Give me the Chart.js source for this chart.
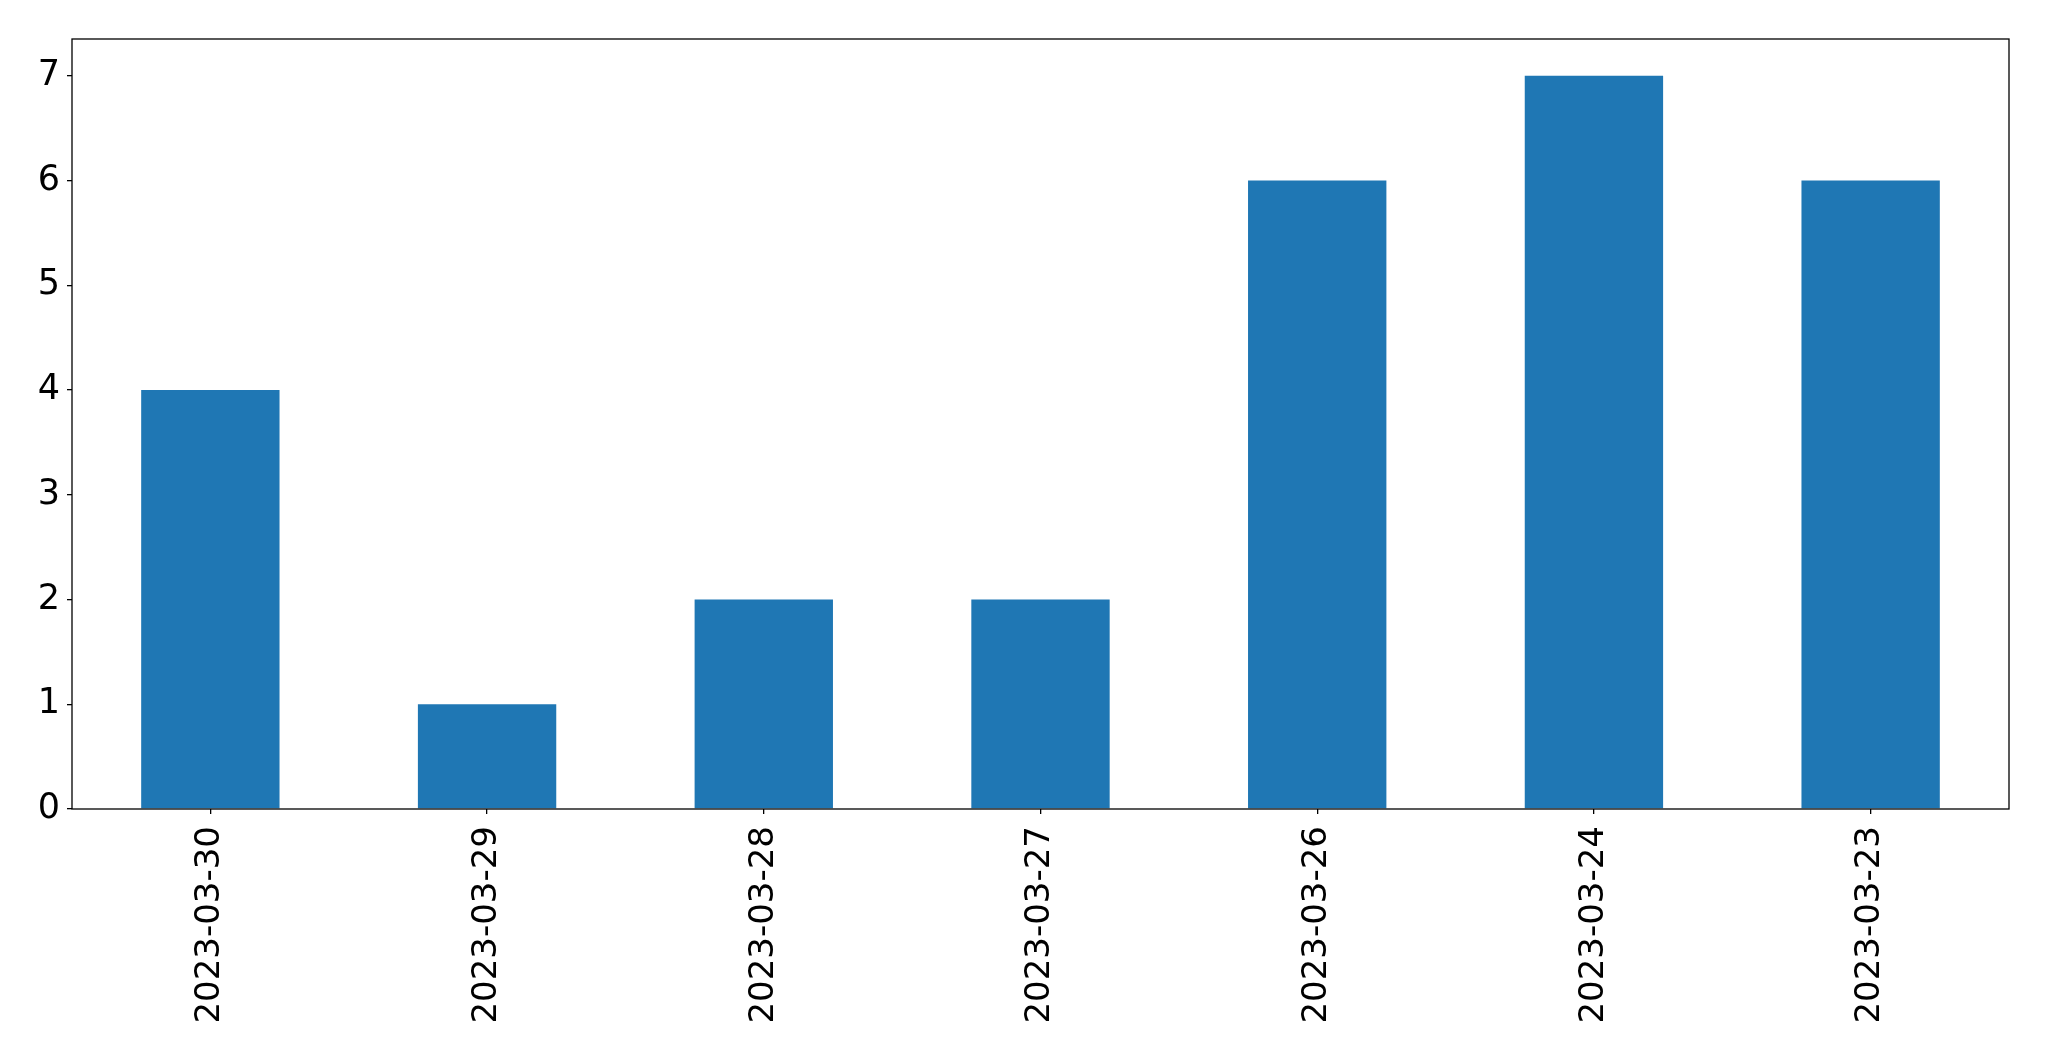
<!DOCTYPE html>
<html>
<head>
<meta charset="utf-8">
<script src="https://cdn.jsdelivr.net/npm/chart.js@4.4.0/dist/chart.umd.min.js"></script>
<style>
  html, body { margin: 0; padding: 0; background: #fff; }
  #wrap { width: 2049px; height: 1061px; }
</style>
</head>
<body>
<div id="wrap"><canvas id="chart-tanggal" width="2049" height="1061"></canvas></div>
<script>
const tanggal = ["2023-03-30", "2023-03-29", "2023-03-28", "2023-03-27", "2023-03-26", "2023-03-24", "2023-03-23"];
const jumlah = [4, 1, 2, 2, 6, 7, 6];
const yMax = 7.35;

// frame around the plot area, like matplotlib's spines
const bingkai = {
    id: "bingkai",
    afterDraw(chart) {
        const { ctx, chartArea } = chart;
        ctx.save();
        ctx.strokeStyle = "#000";
        ctx.lineWidth = 1.3;
        ctx.strokeRect(chartArea.left, chartArea.top, chartArea.right - chartArea.left, chartArea.bottom - chartArea.top);
        ctx.restore();
    },
};

const chartTanggal = document.getElementById("chart-tanggal");
new Chart(chartTanggal, {
    type: "bar",
    data: {
        labels: tanggal,
        datasets: [
            {
                label: "Total",
                data: jumlah,
                backgroundColor: "#1f77b4",
                borderWidth: 0,
                barPercentage: 0.5,
                categoryPercentage: 1.0,
            },
        ],
    },
    options: {
        responsive: false,
        animation: false,
        devicePixelRatio: 1,
        layout: { padding: { top: 39, right: 40, left: 0, bottom: 0 } },
        plugins: {
            legend: { display: false },
            tooltip: { enabled: false },
        },
        scales: {
            x: {
                grid: {
                    display: true,
                    drawOnChartArea: false,
                    offset: false,
                    tickLength: 5,
                    color: "#000",
                    lineWidth: 1.3,
                },
                border: { display: false },
                ticks: {
                    color: "#000",
                    font: { family: "DejaVu Sans", size: 34 },
                    minRotation: 90,
                    maxRotation: 90,
                    padding: 12,
                    autoSkip: false,
                },
                afterFit(scale) {
                    scale.height = 252;
                },
            },
            y: {
                min: 0,
                max: yMax,
                grid: {
                    display: true,
                    drawOnChartArea: false,
                    tickLength: 5,
                    color: "#000",
                    lineWidth: 1.3,
                },
                border: { display: false },
                ticks: {
                    stepSize: 1,
                    includeBounds: false,
                    color: "#000",
                    font: { family: "DejaVu Sans", size: 35 },
                    padding: 7,
                },
                afterFit(scale) {
                    scale.width = 72;
                },
            },
        },
    },
    plugins: [bingkai],
});
</script>
</body>
</html>
